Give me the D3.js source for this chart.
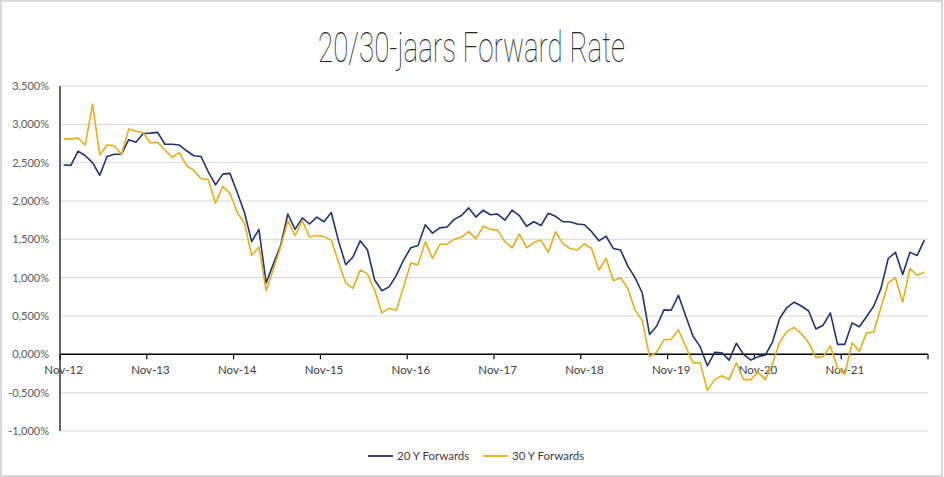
<!DOCTYPE html>
<html>
<head>
<meta charset="utf-8">
<script src="https://cdn.jsdelivr.net/npm/d3@7"></script>
<style>
  body { margin: 0; background: #fff; }
  text { font-family: Lato, "Open Sans", sans-serif; }
</style>
</head>
<body>
<div id="chart"></div>
<script>
// month categories (Nov-12 .. Oct-22)
const months = d3.timeMonth.range(new Date(2012, 10, 1), new Date(2022, 10, 1));
const tickLabels = ["Nov-12", "Nov-13", "Nov-14", "Nov-15", "Nov-16", "Nov-17", "Nov-18", "Nov-19", "Nov-20", "Nov-21"];
const yTicks = [-1, -0.5, 0, 0.5, 1, 1.5, 2, 2.5, 3, 3.5];
const seriesNames = ["20 Y Forwards", "30 Y Forwards"];

// 20 Y forwards (%)
const fwd20 = [
  2.47, 2.465, 2.65, 2.59, 2.50, 2.335, 2.58, 2.61, 2.61, 2.80, 2.765, 2.88,
  2.885, 2.895, 2.74, 2.74, 2.73, 2.655, 2.59, 2.58, 2.38, 2.21, 2.35, 2.36,
  2.11, 1.85, 1.47, 1.63, 0.93, 1.18, 1.42, 1.83, 1.63, 1.78, 1.70, 1.79,
  1.73, 1.85, 1.48, 1.17, 1.27, 1.48, 1.365, 0.97, 0.83, 0.88, 1.03, 1.23,
  1.39, 1.42, 1.69, 1.58, 1.65, 1.66, 1.76, 1.81, 1.91, 1.79, 1.88, 1.82,
  1.83, 1.75, 1.88, 1.81, 1.67, 1.73, 1.68, 1.84, 1.80, 1.73, 1.73, 1.70,
  1.69, 1.60, 1.48, 1.54, 1.38, 1.36, 1.15, 1.00, 0.80, 0.26, 0.37, 0.58,
  0.575, 0.77, 0.50, 0.24, 0.10, -0.15, 0.025, 0.02, -0.075, 0.145, 0.0, -0.075,
  -0.03, -0.01, 0.16, 0.47, 0.61, 0.68, 0.63, 0.565, 0.33, 0.38, 0.54, 0.13,
  0.13, 0.41, 0.36, 0.49, 0.63, 0.86, 1.25, 1.33, 1.04, 1.33, 1.29, 1.49
];

// 30 Y forwards (%)
const fwd30 = [
  2.81, 2.81, 2.82, 2.73, 3.265, 2.60, 2.73, 2.72, 2.61, 2.94, 2.91, 2.89,
  2.76, 2.765, 2.665, 2.57, 2.63, 2.46, 2.40, 2.29, 2.28, 1.97, 2.19, 2.10,
  1.85, 1.71, 1.29, 1.40, 0.83, 1.11, 1.40, 1.74, 1.55, 1.74, 1.53, 1.55,
  1.535, 1.49, 1.20, 0.93, 0.86, 1.10, 1.05, 0.835, 0.54, 0.60, 0.575, 0.88,
  1.19, 1.17, 1.47, 1.25, 1.435, 1.435, 1.50, 1.53, 1.60, 1.51, 1.67, 1.63,
  1.62, 1.47, 1.39, 1.57, 1.39, 1.46, 1.49, 1.33, 1.60, 1.45, 1.38, 1.36,
  1.44, 1.38, 1.10, 1.25, 0.96, 1.00, 0.86, 0.58, 0.44, -0.03, 0.03, 0.19,
  0.195, 0.32, 0.10, -0.11, -0.11, -0.47, -0.33, -0.28, -0.33, -0.11, -0.33, -0.33,
  -0.23, -0.33, -0.12, 0.16, 0.30, 0.35, 0.27, 0.15, -0.04, -0.03, 0.11, -0.18,
  -0.26, 0.15, 0.04, 0.28, 0.29, 0.61, 0.93, 1.00, 0.68, 1.12, 1.03, 1.07
];

const colors = ["#1f3470", "#e8ad1c"];
const width = 944, height = 477;
const plotLeft = 60, plotRight = 928, plotTop = 86, plotBottom = 431;

const svg = d3.select("#chart")
  .append("svg")
  .attr("width", width)
  .attr("height", height);

// outer frame
svg.append("rect")
  .attr("x", 1).attr("y", 1)
  .attr("width", width - 3).attr("height", height - 2)
  .attr("fill", "#fff")
  .attr("stroke", "#d9d9d9")
  .attr("stroke-width", 2);

// title (thin condensed look)
svg.append("text")
  .attr("x", 318).attr("y", 62)
  .attr("textLength", 307)
  .attr("lengthAdjust", "spacingAndGlyphs")
  .style("font-family", "Roboto, sans-serif")
  .style("font-weight", 100)
  .style("font-size", "43px")
  .attr("fill", "#262626")
  .text("20/30-jaars Forward Rate");

// scales
const x = d3.scaleBand()
  .domain(d3.range(months.length))
  .range([plotLeft, plotRight]);
const cx = (i) => x(i) + x.bandwidth() / 2;

const y = d3.scaleLinear()
  .domain([-1, 3.5])
  .range([plotBottom, plotTop]);

const fmt = (v) => (v < 0 ? "-" : "") + Math.abs(v).toFixed(3).replace(".", ",") + "%";

// gridlines
svg.append("g")
  .selectAll("line")
  .data(yTicks.filter((d) => d !== 0))
  .join("line")
  .attr("x1", plotLeft).attr("x2", plotRight)
  .attr("y1", (d) => y(d)).attr("y2", (d) => y(d))
  .attr("stroke", "#d9d9d9")
  .attr("stroke-width", 1);

// y labels
svg.append("g")
  .selectAll("text")
  .data(yTicks)
  .join("text")
  .attr("x", 49)
  .attr("y", (d) => y(d))
  .attr("dy", "0.35em")
  .attr("text-anchor", "end")
  .style("font-size", "11px")
  .attr("fill", "#595959")
  .text(fmt);

// y axis line
svg.append("line")
  .attr("x1", plotLeft).attr("x2", plotLeft)
  .attr("y1", plotTop).attr("y2", plotBottom)
  .attr("stroke", "#000").attr("stroke-width", 1.2);

// x axis line at 0
svg.append("line")
  .attr("x1", plotLeft).attr("x2", plotRight)
  .attr("y1", y(0)).attr("y2", y(0))
  .attr("stroke", "#000").attr("stroke-width", 1.5);

// x ticks every 12 months + end
const tickIdx = d3.range(0, months.length, 12);
svg.append("g")
  .selectAll("line")
  .data(tickIdx.map((i) => x(i)).concat([plotRight]))
  .join("line")
  .attr("x1", (d) => d).attr("x2", (d) => d)
  .attr("y1", y(0)).attr("y2", y(0) + 5)
  .attr("stroke", "#000").attr("stroke-width", 1.2);

// x labels
svg.append("g")
  .selectAll("text")
  .data(tickLabels)
  .join("text")
  .attr("x", (d, k) => cx(k * 12))
  .attr("y", y(0) + 20)
  .attr("text-anchor", "middle")
  .style("font-size", "11.5px")
  .attr("fill", "#404040")
  .text((d) => d);

// lines
const line = d3.line()
  .x((d, i) => cx(i))
  .y((d) => y(d));

[fwd20, fwd30].forEach((s, k) => {
  svg.append("path")
    .datum(s)
    .attr("fill", "none")
    .attr("stroke", colors[k])
    .attr("stroke-width", 1.6)
    .attr("stroke-linejoin", "round")
    .attr("d", line);
});

// legend
const legendX = [368, 483];
const legend = svg.append("g")
  .selectAll("g")
  .data(seriesNames)
  .join("g")
  .attr("transform", (d, k) => `translate(${legendX[k]}, 456)`);

legend.append("line")
  .attr("x1", 0).attr("x2", 25)
  .attr("stroke", (d, k) => colors[k])
  .attr("stroke-width", 1.8);

legend.append("text")
  .attr("x", 29)
  .attr("dy", "0.35em")
  .style("font-size", "11.5px")
  .attr("fill", "#404040")
  .text((d) => d);
</script>
</body>
</html>
